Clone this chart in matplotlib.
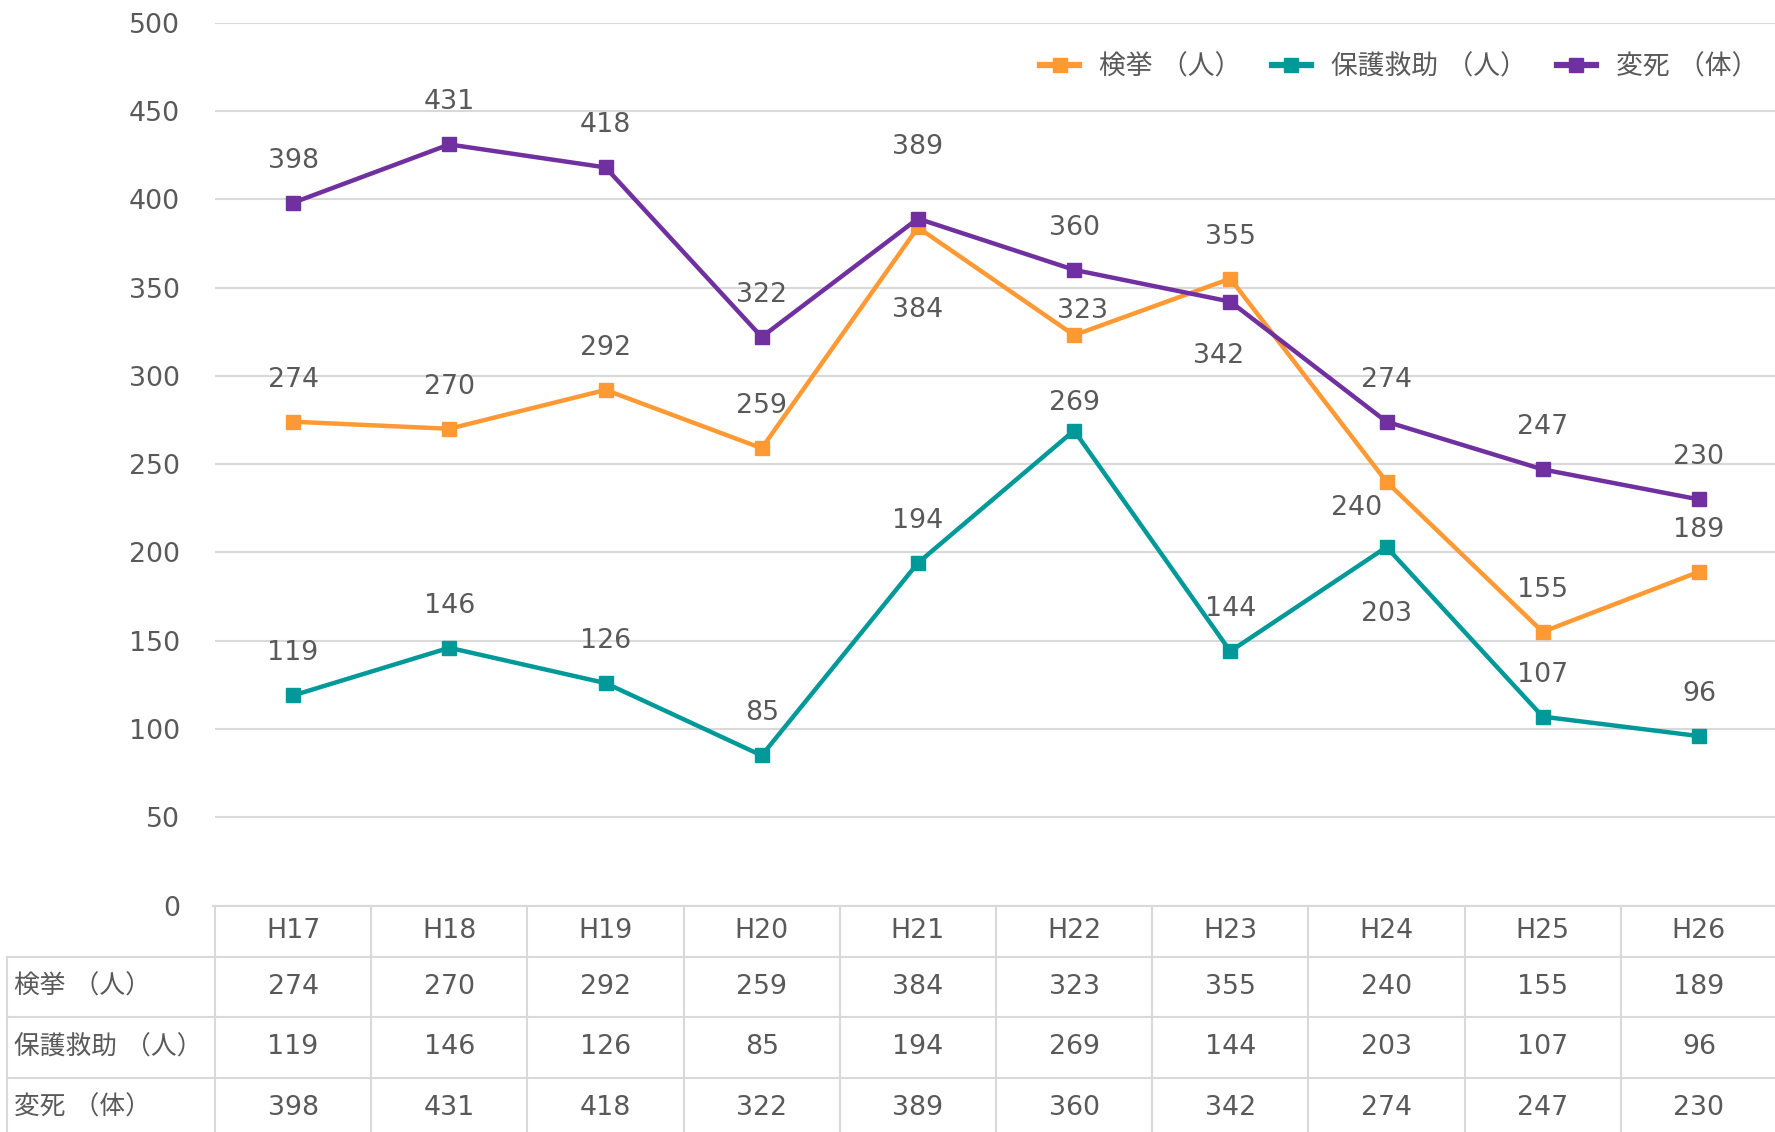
import numpy as np
import matplotlib
matplotlib.use('Agg')
import matplotlib.pyplot as plt
import matplotlib.transforms as mtransforms
from matplotlib.lines import Line2D

plt.rcParams['font.family'] = ['DejaVu Sans', 'Noto Sans CJK JP']

# data
years = ['H17', 'H18', 'H19', 'H20', 'H21', 'H22', 'H23', 'H24', 'H25', 'H26']
kenkyo = [274, 270, 292, 259, 384, 323, 355, 240, 155, 189]
hogo = [119, 146, 126, 85, 194, 269, 144, 203, 107, 96]
henshi = [398, 431, 418, 322, 389, 360, 342, 274, 247, 230]
names = ['検挙 （人）', '保護救助 （人）', '変死 （体）']
series = [kenkyo, hogo, henshi]
colors = ['#FF9933', '#009999', '#7030A0']

txt = '#595959'
grid = '#D9D9D9'
fs = 19.3

# label offsets (pixels) where excel moved them
default_off = (0, 42)
label_off = {(0, 4): (0, -83), (0, 5): (8, 24), (0, 7): (-30, -26),
             (1, 5): (0, 28), (1, 7): (0, -67),
             (2, 4): (0, 72), (2, 6): (-12, -54)}

W, H = 1775, 1132
left_px = 215
fig = plt.figure(figsize=(W / 100, H / 100), dpi=100)
ax = fig.add_axes([left_px / W, 1 - 905.6 / H, (W - 213) / W, (905.6 - 22.6) / H])

x = np.arange(len(years))
for si, (vals, c, nm) in enumerate(zip(series, colors, names)):
    ax.plot(x, vals, color=c, lw=3.2, marker='s', ms=10, label=nm, zorder=3 + si)
    for i, v in enumerate(vals):
        dx, dy = label_off.get((si, i), default_off)
        ax.annotate(str(v), (i, v), xytext=(dx, dy), textcoords='offset pixels',
                    ha='center', va='center', fontsize=fs, color=txt)

ax.set_xlim(-0.5, len(years) - 0.5)
ax.set_ylim(0, 500)
ax.set_yticks(np.arange(0, 501, 50))
ax.set_xticks([])
ax.tick_params(axis='y', length=0, pad=25, labelsize=fs, labelcolor=txt)
ax.grid(axis='y', color=grid, lw=1.5)
for s in ax.spines.values():
    s.set_visible(False)

leg = ax.legend(loc='center right', bbox_to_anchor=(1758 / W, 1 - 67 / H),
                bbox_transform=fig.transFigure, ncol=3, frameon=False, fontsize=fs,
                handlelength=1.45, handletextpad=0.75, columnspacing=1.13,
                borderpad=0, borderaxespad=0)
for t in leg.get_texts():
    t.set_color(txt)
for h in leg.get_lines():
    h.set_linewidth(4.5)

# data table below the plot
trans = mtransforms.blended_transform_factory(ax.transData, fig.transFigure)
row_edges = [905.6, 957, 1017, 1078, 1132]

def fy(p):
    return 1 - p / H

fig.add_artist(Line2D([213 / W, 1], [fy(905.6)] * 2, color=grid, lw=1.5))
for p in row_edges[1:4]:
    fig.add_artist(Line2D([7 / W, 1], [fy(p)] * 2, color=grid, lw=1.5))
fig.add_artist(Line2D([7 / W, 7 / W], [fy(957), 0], color=grid, lw=1.5))
for b in np.arange(len(years) + 1) - 0.5:
    ax.plot([b, b], [fy(905.6), 0], transform=trans, color=grid, lw=1.5, clip_on=False)

centers = [(row_edges[k] + row_edges[k + 1]) / 2 for k in range(4)]
centers[3] += 3
for i, yr in enumerate(years):
    ax.text(i, fy(centers[0]), yr, transform=trans, ha='center', va='center',
            fontsize=fs, color=txt)
for r, (vals, nm) in enumerate(zip(series, names)):
    fig.text(14 / W, fy(centers[r + 1]), nm, ha='left', va='center', fontsize=fs - 0.8, color=txt)
    for i, v in enumerate(vals):
        ax.text(i, fy(centers[r + 1]), str(v), transform=trans, ha='center', va='center',
                fontsize=fs, color=txt)

fig.savefig('out.png', dpi=100)
